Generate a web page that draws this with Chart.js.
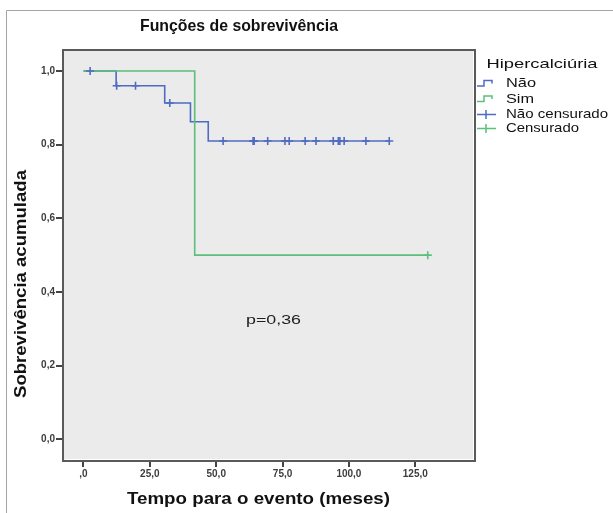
<!DOCTYPE html>
<html>
<head>
<meta charset="utf-8">
<script src="https://cdn.jsdelivr.net/npm/chart.js@4"></script>
<style>
  html, body { margin: 0; padding: 0; background: #ffffff; }
  #wrap { position: relative; width: 613px; height: 513px; overflow: hidden; }
  canvas { position: absolute; left: 0; top: 0; }
</style>
</head>
<body>
<div id="wrap"><canvas id="c" width="613" height="513"></canvas></div>
<script>
// ---- Data ----
const chartTitle = 'Funções de sobrevivência';
const xTitle = 'Tempo para o evento (meses)';
const yTitle = 'Sobrevivência acumulada';
const legendTitle = 'Hipercalciúria';
const legendLabels = ['Não', 'Sim', 'Não censurado', 'Censurado'];
const pValueText = 'p=0,36';

const xTicks = [0, 25, 50, 75, 100, 125];
const yTicks = [0.0, 0.2, 0.4, 0.6, 0.8, 1.0];

// Hipercalciúria = Não (blue) step curve
const naoTimes = [0, 12.3, 30.6, 40.3, 47.0, 115.2];
const naoSurv  = [1.0, 0.96, 0.913, 0.862, 0.81, 0.81];
// censored observations, Não
const naoCensTimes = [2.5, 12.5, 19.6, 32.5, 52.6, 63.9, 64.3, 69.4, 75.9, 77.5, 83.5, 87.6, 94.1, 96.0, 96.6, 98.2, 106.4, 115.2];
const naoCensSurv  = [1.0, 0.96, 0.96, 0.913, 0.81, 0.81, 0.81, 0.81, 0.81, 0.81, 0.81, 0.81, 0.81, 0.81, 0.81, 0.81, 0.81, 0.81];

// Hipercalciúria = Sim (green) step curve
const simTimes = [0, 41.9, 129.7];
const simSurv  = [1.0, 0.5, 0.5];
const simCensTimes = [129.7];
const simCensSurv  = [0.5];

// ---- Styles ----
const BLUE = '#4f6cc1';
const GREEN = '#5cbf7c';
const FONT = '"Liberation Sans", Arial, sans-serif';

const pts = (xs, ys) => xs.map((x, i) => ({ x: x, y: ys[i] }));
const fmt = v => (Math.abs(v) < 1e-9 ? ',0' : v.toFixed(1).replace('.', ','));
const fmtY = v => v.toFixed(1).replace('.', ',');

function drawText(ctx, s, x, y, font, width, opts) {
  opts = opts || {};
  ctx.save();
  ctx.font = font;
  ctx.fillStyle = opts.color || '#111';
  ctx.textAlign = 'center';
  ctx.textBaseline = 'alphabetic';
  const m = ctx.measureText(s).width;
  const sx = width ? width / m : 1;
  ctx.translate(x, y);
  if (opts.rotate) ctx.rotate(-Math.PI / 2);
  ctx.scale(sx, 1);
  ctx.fillText(s, 0, 0);
  ctx.restore();
}

const decorPlugin = {
  id: 'decor',
  beforeDraw(chart) {
    const ctx = chart.ctx;
    const a = chart.chartArea;
    ctx.save();
    ctx.strokeStyle = '#a4a4a4';
    ctx.lineWidth = 1;
    ctx.beginPath();
    ctx.moveTo(6.5, 513);
    ctx.lineTo(6.5, 10.5);
    ctx.lineTo(613, 10.5);
    ctx.stroke();
    ctx.fillStyle = '#ebebeb';
    ctx.fillRect(a.left, a.top, a.right - a.left, a.bottom - a.top);
    ctx.restore();
  },
  afterDatasetsDraw(chart) {
    const ctx = chart.ctx;
    const a = chart.chartArea;
    ctx.save();
    ctx.strokeStyle = '#ffffff';
    ctx.lineWidth = 1;
    ctx.beginPath();
    ctx.moveTo(a.left + 2, a.bottom - 1.5);
    ctx.lineTo(a.right - 1.5, a.bottom - 1.5);
    ctx.lineTo(a.right - 1.5, a.top + 2);
    ctx.stroke();
    ctx.strokeStyle = '#5a5a5a';
    ctx.lineWidth = 2;
    ctx.strokeRect(a.left, a.top, a.right - a.left, a.bottom - a.top);
    ctx.restore();
  },
  afterDraw(chart) {
    const ctx = chart.ctx;
    drawText(ctx, chartTitle, 239, 31, 'bold 17px ' + FONT, 198);
    drawText(ctx, xTitle, 258.5, 504, 'bold 17px ' + FONT, 263);
    drawText(ctx, yTitle, 26, 284, 'bold 17px ' + FONT, 228, { rotate: true });
    drawText(ctx, pValueText, 273.5, 324, '12px ' + FONT, 55, { color: '#222' });
    drawText(ctx, legendTitle, 486.5 + 55.5, 68, '13px ' + FONT, 111);
    const lx = 506;
    const items = [
      { t: legendLabels[0], base: 87, w: 30, kind: 'step', c: BLUE },
      { t: legendLabels[1], base: 102.5, w: 28, kind: 'step', c: GREEN },
      { t: legendLabels[2], base: 118, w: 102, kind: 'cross', c: BLUE },
      { t: legendLabels[3], base: 132, w: 73, kind: 'cross', c: GREEN }
    ];
    items.forEach(it => {
      drawText(ctx, it.t, lx + it.w / 2, it.base, '13px ' + FONT, it.w);
      ctx.save();
      ctx.strokeStyle = it.c;
      ctx.lineWidth = 1.5;
      ctx.beginPath();
      if (it.kind === 'step') {
        const yb = it.base - 1;
        ctx.moveTo(477, yb);
        ctx.lineTo(484, yb);
        ctx.lineTo(484, yb - 5.5);
        ctx.lineTo(492, yb - 5.5);
        ctx.lineTo(492, yb - 2.5);
      } else {
        const cy = it.base - 3.5;
        ctx.moveTo(477, cy);
        ctx.lineTo(496, cy);
        ctx.moveTo(486, cy - 4.5);
        ctx.lineTo(486, cy + 4.5);
      }
      ctx.stroke();
      ctx.restore();
    });
  }
};

const tickFont = { family: FONT, size: 10, weight: 'bold' };

new Chart(document.getElementById('c'), {
  type: 'scatter',
  data: {
    datasets: [
      {
        label: legendLabels[2],
        data: pts(naoCensTimes, naoCensSurv),
        pointStyle: 'cross', pointRadius: 4, pointBorderWidth: 1.6,
        borderColor: BLUE, backgroundColor: BLUE, showLine: false, order: 0
      },
      {
        label: legendLabels[3],
        data: pts(simCensTimes, simCensSurv),
        pointStyle: 'cross', pointRadius: 4, pointBorderWidth: 1.6,
        borderColor: GREEN, backgroundColor: GREEN, showLine: false, order: 1
      },
      {
        label: legendLabels[1],
        data: pts(simTimes, simSurv),
        showLine: true, stepped: 'before', pointRadius: 0, borderWidth: 1.6,
        borderColor: GREEN, backgroundColor: GREEN, fill: false, order: 2
      },
      {
        label: legendLabels[0],
        data: pts(naoTimes, naoSurv),
        showLine: true, stepped: 'before', pointRadius: 0, borderWidth: 1.6,
        borderColor: BLUE, backgroundColor: BLUE, fill: false, order: 3
      }
    ]
  },
  options: {
    responsive: false,
    animation: false,
    events: [],
    layout: { padding: { left: 0, top: 50, right: 138, bottom: 22 } },
    plugins: {
      legend: { display: false },
      title: { display: false },
      tooltip: { enabled: false }
    },
    scales: {
      x: {
        type: 'linear',
        min: -7.72, max: 147.5,
        afterFit: s => { s.height = 30; },
        afterBuildTicks: s => { s.ticks = xTicks.map(v => ({ value: v })); },
        ticks: { callback: v => fmt(v), font: tickFont, color: '#3c3c3c', padding: 1, maxRotation: 0, autoSkip: false },
        grid: { drawOnChartArea: false, drawTicks: true, tickLength: 6, color: '#444', lineWidth: 2 },
        border: { display: false }
      },
      y: {
        type: 'linear',
        min: -0.059, max: 1.057,
        afterFit: s => { s.width = 63; },
        afterBuildTicks: s => { s.ticks = yTicks.map(v => ({ value: v })); },
        ticks: { callback: v => fmtY(v), font: tickFont, color: '#3c3c3c', padding: 1, autoSkip: false },
        grid: { drawOnChartArea: false, drawTicks: true, tickLength: 7, color: '#444', lineWidth: 2 },
        border: { display: false }
      }
    }
  },
  plugins: [decorPlugin]
});
</script>
</body>
</html>
